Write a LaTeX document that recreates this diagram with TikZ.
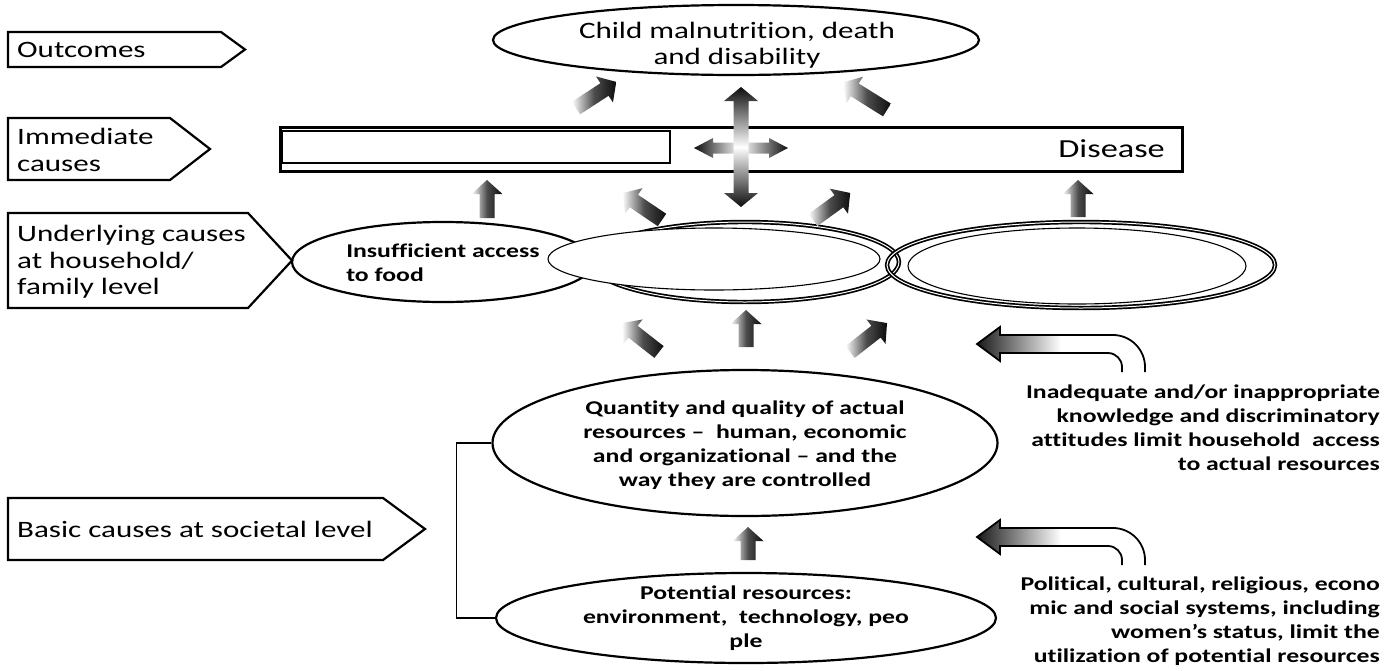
\documentclass[tikz,border=0pt]{standalone}
\usepackage{fontspec}
\setmainfont{Carlito}[FakeStretch=1.32, Ligatures=NoCommon]
\usetikzlibrary{shapes.geometric}

\newcommand{\regfont}{\fontsize{23.5}{26.5}\selectfont}
\newcommand{\boldfont}{\fontsize{19.5}{24}\selectfont\bfseries}
\newcommand{\blockarrow}[3]{%
  \begin{scope}[shift={#1}, rotate=#2]
    \shade[left color=white, right color=black!95, middle color=black!70]
      (0,-7.5) -- (#3-14,-7.5) -- (#3-14,-15.5) -- (#3,0) -- (#3-14,15.5) -- (#3-14,7.5) -- (0,7.5) -- cycle;
  \end{scope}}

\begin{document}
\begin{tikzpicture}[x=1pt, y=-1pt,
  tagbox/.style={line width=2.2pt},
  tag/.style={font=\regfont, align=left, anchor=west, inner sep=0pt},
  blob/.style={ellipse, draw, line width=2.2pt, inner sep=0pt},
  twin/.style={ellipse, draw, line width=1.7pt, double=white, double distance=1pt, inner sep=0pt},
  hidebox/.style={ellipse, draw, fill=white, line width=1.1pt, inner sep=0pt},
  inside/.style={font=\boldfont, align=center, inner sep=0pt},
  sidenote/.style={font=\boldfont, align=right, anchor=east, inner sep=0pt}]
\useasboundingbox (0,0) rectangle (1393,670);

% level labels
\draw[tagbox] (8,32) -- (221,32) -- (245,49.5) -- (221,67) -- (8,67) -- cycle;
\draw[tagbox] (8,118) -- (170,118) -- (210,149) -- (170,180) -- (8,180) -- cycle;
\draw[tagbox] (8,213) -- (248,213) -- (292,260.5) -- (248,308) -- (8,308) -- cycle;
\draw[tagbox] (8,498) -- (383,498) -- (425,529) -- (383,560) -- (8,560) -- cycle;
\node[tag] (outcomes) at (17,49.5) {Outcomes};
\node[tag] (immediate) at (17,150) {Immediate\\causes};
\node[tag] (underlying) at (17,262) {Underlying causes\\at household/\\family level};
\node[tag] (basic) at (17,529) {Basic causes at societal level};

% outcomes
\node[blob, minimum width=486pt, minimum height=70pt] (child) at (736,40) {};
\node[font=\regfont, align=center, inner sep=0pt] (childtext) at (737,45) {Child malnutrition, death\\and disability};

% immediate causes
\node[draw, line width=2.2pt, minimum width=902pt, minimum height=44pt, inner sep=0pt] (bar) at (731.5,149.5) {};
\filldraw[fill=white, line width=1.1pt] (282,131) rectangle (670,163);
\node[anchor=east, font=\fontsize{26}{30}\selectfont, inner sep=0pt] (disease) at (1165,149) {Disease};

% underlying causes
\node[blob, minimum width=302pt, minimum height=80pt] (food) at (443,262) {};
\node[font=\boldfont, align=left, inner sep=0pt] (foodtext) at (443,263) {Insufficient access\\to food};
\node[twin, minimum width=308pt, minimum height=80pt] (care) at (745,262) {};
\node[twin, minimum width=388pt, minimum height=86pt] (health) at (1081,265) {};
\node[hidebox, minimum width=332pt, minimum height=62pt] (careblank) at (714,259) {};
\node[hidebox, minimum width=338pt, minimum height=76pt] (healthblank) at (1077,266) {};

% basic causes
\node[blob, minimum width=505pt, minimum height=146pt] (quantity) at (745,443) {};
\node[inside] (quantitytext) at (745,445) {Quantity and quality of actual\\resources -- \ human, economic\\and organizational -- and the\\way they are controlled};
\node[blob, minimum width=500pt, minimum height=90pt] (potential) at (746,618) {};
\node[inside] (potentialtext) at (746,618) {Potential resources:\\environment, \ technology, peo\\ple};
\draw[line width=1.8pt] (quantity.west) -- ++(-35,0) |- (potential.west);

% shaded arrows
\blockarrow{(576,108)}{33}{48}
\blockarrow{(887,110)}{148}{52}
\blockarrow{(487,218)}{90}{38}
\blockarrow{(662,220)}{146}{48}
\blockarrow{(813,220)}{36}{46}
\blockarrow{(1078,217)}{90}{37}
\blockarrow{(659,352)}{142}{47}
\blockarrow{(746,347)}{90}{37}
\blockarrow{(850,352)}{38}{47}
\blockarrow{(748,560)}{90}{33}

% cross
\shade[left color=black!95, right color=black!95, middle color=white]
  (694,148) -- (713,138) -- (713,142.5) -- (769,142.5) -- (769,138) -- (788,148)
  -- (769,158) -- (769,153.5) -- (713,153.5) -- (713,158) -- cycle;
\shade[top color=black!95, bottom color=black!95, middle color=white]
  (741,87) -- (758,101) -- (748.5,101) -- (748.5,193) -- (758,193) -- (741,207)
  -- (724,193) -- (733.5,193) -- (733.5,101) -- (724,101) -- cycle;

% bent arrows
\foreach \dy in {0,193}
  \shadedraw[shift={(0,\dy)}, left color=black!90, right color=white, middle color=white, line width=1.8pt]
    (1122,372) -- (1122,367) .. controls (1122,359.3) and (1115.7,353) .. (1108,353) -- (1000,353)
    -- (1000,361) -- (977,344) -- (1000,327) -- (1000,335) -- (1113,335)
    .. controls (1130.6,335) and (1145,349.4) .. (1145,367) -- (1145,372);
\node[sidenote] (knowledge) at (1380,428) {Inadequate and/or inappropriate\\knowledge and discriminatory\\attitudes limit household \ access\\to actual resources};
\node[sidenote] (systems) at (1380,621) {Political, cultural, religious, econo\\mic and social systems, including\\women’s status, limit the\\utilization of potential resources};
\end{tikzpicture}
\end{document}
